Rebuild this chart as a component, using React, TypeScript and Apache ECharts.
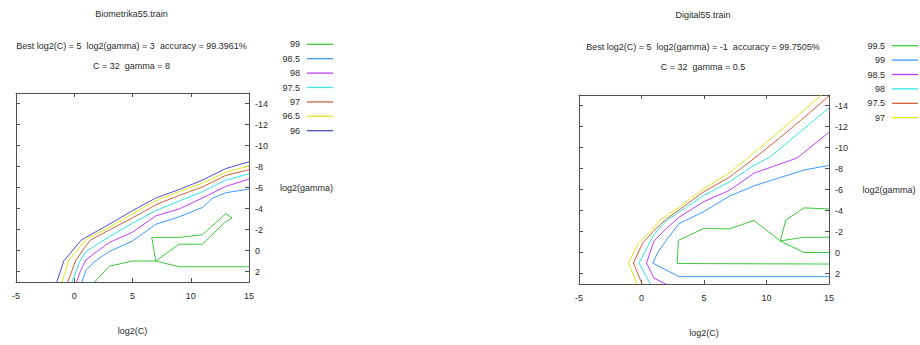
import React, { useEffect, useRef } from "react";
import * as echarts from "echarts";

const FONT = "'Liberation Sans', Arial, Helvetica, sans-serif";
const TEXT = "#2a2a2a";
const FRAME = "#505050";

// contour level colours, in legend order
const levelColors = ["#3cc83c", "#3d99ff", "#c23cff", "#33e6e6", "#d0603a", "#e6e620", "#5050d0"];

// axis ticks
const xTicks = [-5, 0, 5, 10, 15];
const yTicks = [-14, -12, -10, -8, -6, -4, -2, 0, 2];
const xRange = [-5, 15];
const yRange = [-15, 3];

// ---------- Biometrika55.train ----------
const leftTitle = "Biometrika55.train";
const leftBest = "Best log2(C) = 5  log2(gamma) = 3  accuracy = 99.3961%";
const leftCG = "C = 32  gamma = 8";
const leftLevels = ["99", "98.5", "98", "97.5", "97", "96.5", "96"];

const left99a = [[1.75, 3], [3, 1.5], [5, 1], [7, 1], [9, 1.55], [15, 1.55]];
const left99b = [[7, 1], [6.65, -1.25], [9, -1.25], [11, -1.5], [13, -3.5], [13.55, -3.1], [12.9, -2.65], [11, -0.6], [9, -0.6], [7, 1]];
const left985 = [[0.65, 3], [1, 1.9], [1.8, 1], [3, 0.1], [5, -0.9], [7, -2.5], [9, -3.2], [11, -4.1], [11.9, -5], [13, -5.5], [15, -5.85]];
const left98 = [[0.2, 3], [0.55, 1.9], [1, 0.9], [2, 0.05], [3, -0.75], [5, -1.75], [7, -3.3], [9, -3.95], [11, -5.0], [13, -6.1], [15, -6.8]];
const left975 = [[-0.2, 3], [0.5, 1], [1, 0.1], [2, -0.6], [3, -1.3], [5, -2.6], [7, -3.8], [9, -4.7], [11, -5.6], [13, -6.7], [15, -7.3]];
const left97 = [[-0.55, 3], [0.1, 1], [1, -0.45], [1.4, -1], [3, -1.95], [5, -3.1], [7, -4.35], [9, -5.25], [11, -6.05], [13, -7.15], [15, -7.7]];
const left965 = [[-1.05, 3], [-0.5, 1], [1, -1.05], [3, -2.2], [5, -3.5], [7, -4.75], [9, -5.6], [11, -6.4], [13, -7.45], [15, -8.05]];
const left96 = [[-1.5, 3], [-0.9, 1], [0.6, -1], [1, -1.25], [3, -2.5], [5, -3.8], [7, -5.0], [9, -5.8], [11, -6.7], [13, -7.8], [15, -8.45]];

const leftContours = [
  { level: 0, data: left99a },
  { level: 0, data: left99b },
  { level: 1, data: left985 },
  { level: 2, data: left98 },
  { level: 3, data: left975 },
  { level: 4, data: left97 },
  { level: 5, data: left965 },
  { level: 6, data: left96 },
];

// ---------- Digital55.train ----------
const rightTitle = "Digital55.train";
const rightBest = "Best log2(C) = 5  log2(gamma) = -1  accuracy = 99.7505%";
const rightCG = "C = 32  gamma = 0.5";
const rightLevels = ["99.5", "99", "98.5", "98", "97.5", "97"];

const right995a = [[15, -4.15], [13, -4.25], [11.55, -3.1], [11.1, -1.1], [13, -1.45], [15, -1.45]];
const right995b = [[15, 0], [13, 0], [11.1, -1.1], [9, -3.05], [7, -2.25], [5, -2.3], [2.95, -1.15], [2.85, 1.05], [15, 1.1]];
const right99 = [[15, 2.3], [3, 2.3], [0.9, 1.0], [1.3, 0], [2, -1.2], [3, -2.75], [5, -3.9], [7, -5.35], [9, -6.35], [11, -7.1], [13, -7.85], [15, -8.3]];
const right985 = [[1.95, 3], [1, 2.45], [0.4, 1], [1, -1.1], [2, -2.3], [3, -3.35], [5, -4.85], [7, -5.9], [9, -7.55], [12.45, -9], [15, -11.45]];
const right98 = [[0.7, 3], [-0.2, 1], [1, -1.7], [2, -3.05], [3, -3.85], [5, -5.45], [7, -6.7], [9, -8.3], [10.3, -9.1], [13, -11.8], [15, -13.75]];
const right975 = [[0.05, 3], [-0.65, 1], [0.1, -0.9], [1, -2.1], [2, -3.2], [3, -4.05], [5, -5.8], [7, -7.15], [9, -8.95], [11, -10.85], [13, -12.85], [15, -14.9]];
const right97 = [[-0.35, 3], [-1.05, 1], [-0.25, -0.9], [0.7, -2], [1.5, -3.1], [3, -4.3], [5, -6.1], [7, -7.55], [9, -9.5], [11, -11.5], [13, -13.55], [14.4, -15]];

const rightContours = [
  { level: 0, data: right995a },
  { level: 0, data: right995b },
  { level: 1, data: right99 },
  { level: 2, data: right985 },
  { level: 3, data: right98 },
  { level: 4, data: right975 },
  { level: 5, data: right97 },
];

type Panel = {
  title: string;
  best: string;
  cg: string;
  levels: string[];
  contours: { level: number; data: number[][] }[];
  grid: { left: number; top: number; width: number; height: number };
  textX: number;
  titleY: number;
  legendRight: number;
  legendTop: number;
  yNameGap: number;
};

function text(x: number, y: number, t: string) {
  return {
    type: "text",
    x,
    y,
    silent: true,
    style: {
      text: t,
      fill: TEXT,
      font: `9px ${FONT}`,
      fontSize: 9,
      fontFamily: FONT,
      align: "center",
      verticalAlign: "middle",
      textAlign: "center",
      textVerticalAlign: "middle",
    },
  };
}

function makeOption(p: Panel) {
  const axisLine = { show: true, onZero: false, lineStyle: { color: FRAME, width: 1 } };
  const tickStyle = { inside: true, length: 4, lineStyle: { color: FRAME, width: 1 } };
  const labelStyle = { fontSize: 9, fontFamily: FONT, color: TEXT };
  const series = p.contours.map((c) => ({
    type: "line",
    name: p.levels[c.level],
    data: c.data,
    symbol: "none",
    showSymbol: false,
    silent: true,
    xAxisIndex: 0,
    yAxisIndex: 0,
    lineStyle: { width: 1, color: levelColors[c.level] },
    itemStyle: { color: levelColors[c.level] },
    z: 3,
  }));
  return {
    animation: false,
    grid: { ...p.grid, containLabel: false },
    legend: {
      data: p.levels,
      orient: "vertical",
      right: p.legendRight,
      top: p.legendTop,
      align: "right",
      icon: "rect",
      itemWidth: 26,
      itemHeight: 1.3,
      itemGap: 4.4,
      selectedMode: false,
      padding: 0,
      textStyle: { fontSize: 9, fontFamily: FONT, color: TEXT, lineHeight: 10, padding: [0, 2, 0, 0] },
    },
    xAxis: [
      {
        type: "value",
        position: "bottom",
        min: xRange[0],
        max: xRange[1],
        interval: 5,
        axisLine,
        axisTick: { ...tickStyle, customValues: xTicks },
        axisLabel: { ...labelStyle, margin: 9, customValues: xTicks },
        splitLine: { show: false },
        name: "log2(C)",
        nameLocation: "middle",
        nameGap: 44,
        nameTextStyle: labelStyle,
      },
      {
        type: "value",
        position: "top",
        min: xRange[0],
        max: xRange[1],
        interval: 5,
        axisLine,
        axisTick: { ...tickStyle, customValues: xTicks },
        axisLabel: { show: false },
        splitLine: { show: false },
      },
    ],
    yAxis: [
      {
        type: "value",
        position: "right",
        inverse: true,
        min: yRange[0],
        max: yRange[1],
        axisLine,
        axisTick: { ...tickStyle, customValues: yTicks },
        axisLabel: { ...labelStyle, margin: 6, customValues: yTicks },
        splitLine: { show: false },
        name: "log2(gamma)",
        nameLocation: "middle",
        nameRotate: 0,
        nameGap: p.yNameGap,
        nameTextStyle: labelStyle,
      },
      {
        type: "value",
        position: "left",
        inverse: true,
        min: yRange[0],
        max: yRange[1],
        axisLine,
        axisTick: { ...tickStyle, customValues: yTicks },
        axisLabel: { show: false },
        splitLine: { show: false },
      },
    ],
    graphic: [
      text(p.textX, p.titleY, p.title),
      text(p.textX, p.titleY + 31.5, p.best),
      text(p.textX, p.titleY + 51.5, p.cg),
    ],
    series,
  };
}

const leftPanel: Panel = {
  title: leftTitle,
  best: leftBest,
  cg: leftCG,
  levels: leftLevels,
  contours: leftContours,
  grid: { left: 16, top: 93, width: 233, height: 189 },
  textX: 131.5,
  titleY: 14,
  legendRight: 127,
  legendTop: 39.3,
  yNameGap: 31,
};

const rightPanel: Panel = {
  title: rightTitle,
  best: rightBest,
  cg: rightCG,
  levels: rightLevels,
  contours: rightContours,
  grid: { left: 119, top: 95, width: 250, height: 189 },
  textX: 243,
  titleY: 15,
  legendRight: 2,
  legendTop: 40.7,
  yNameGap: 33.5,
};

function Chart({ panel, left }: { panel: Panel; left: number }) {
  const ref = useRef<HTMLDivElement>(null);
  useEffect(() => {
    if (!ref.current) return;
    const chart = echarts.init(ref.current, undefined, { renderer: "svg" });
    chart.setOption(makeOption(panel) as any);
    return () => chart.dispose();
  }, [panel]);
  return (
    <div
      ref={ref}
      style={{ position: "absolute", left, top: 0, width: 460, height: 345 }}
    />
  );
}

export default function App() {
  return (
    <div
      style={{
        position: "fixed",
        left: 0,
        top: 0,
        width: 920,
        height: 345,
        background: "#ffffff",
        overflow: "hidden",
      }}
    >
      <Chart panel={leftPanel} left={0} />
      <Chart panel={rightPanel} left={460} />
    </div>
  );
}
